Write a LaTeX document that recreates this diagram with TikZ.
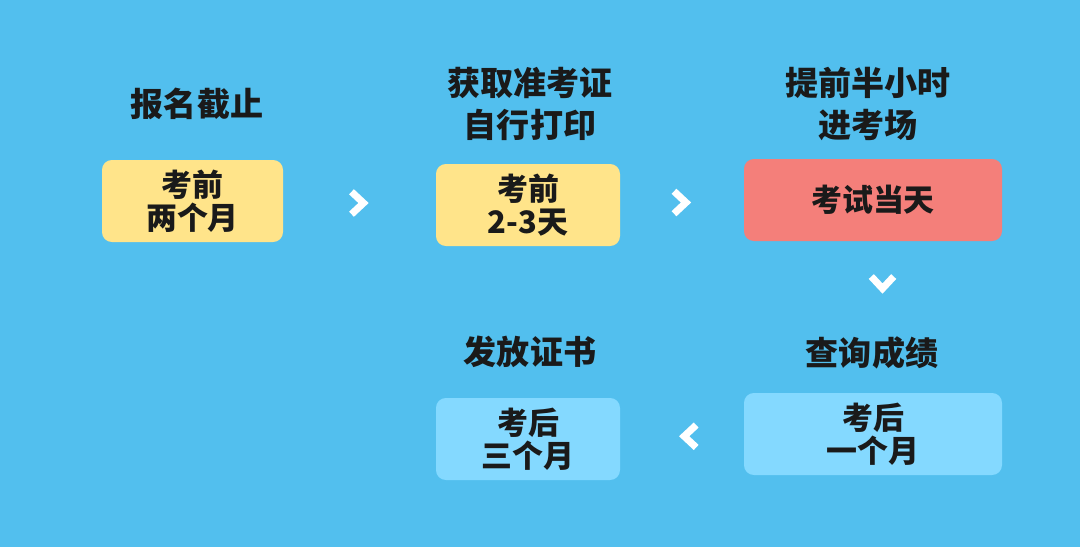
\documentclass[tikz,border=0pt]{standalone}
\usepackage{fontspec}
\newfontfamily\cjk{Noto Sans CJK SC}
\usepackage{tikz}
\usetikzlibrary{calc}
\definecolor{bgblue}{HTML}{52BFEE}
\definecolor{stepyellow}{HTML}{FFE48A}
\definecolor{stepred}{HTML}{F47F7A}
\definecolor{steplight}{HTML}{84D9FF}
\definecolor{ink}{HTML}{1A1A1A}
\tikzset{
  box/.style={rounded corners=7pt, align=center, text=ink, inner sep=0pt,
    font=\cjk\bfseries\fontsize{22}{23.5}\selectfont, minimum height=2.05cm},
  narrow/.style={box, minimum width=4.6cm},
  wide/.style={box, minimum width=6.45cm},
  title/.style={align=center, text=ink, font=\cjk\bfseries\fontsize{23.5}{30}\selectfont},
  chev/.style={draw=white, line width=5pt, line join=miter},
}
\begin{document}
\begin{tikzpicture}
  \fill[bgblue] (0,0) rectangle (27,-13.675);
  \useasboundingbox (0,0) rectangle (27,-13.675);
  % top row
  \node[narrow, fill=stepyellow, minimum width=4.525cm] (sign) at (4.8125,-5.025) {考前\\两个月};
  \node[narrow, fill=stepyellow] (print) at (13.2,-5.125) {考前\\2-3天};
  \node[wide, fill=stepred] (exam) at (21.825,-5.0) {考试当天};
  % bottom row
  \node[wide, fill=steplight] (score) at (21.825,-10.85) {考后\\一个月};
  \node[narrow, fill=steplight] (cert) at (13.2,-10.975) {考后\\三个月};
  % titles
  \node[title] (t-sign) at (4.925,-2.6) {报名截止};
  \node[title] (t-print) at (13.25,-2.6) {获取准考证\\自行打印};
  \node[title] (t-exam) at (21.7,-2.6) {提前半小时\\进考场};
  \node[title] (t-score) at (21.8,-8.825) {查询成绩};
  \node[title] (t-cert) at (13.25,-8.8) {发放证书};
  % chevrons
  \coordinate (c1) at ($(sign.east)!0.5!(print.west)$);
  \coordinate (c2) at ($(print.east)!0.5!(exam.west)$);
  \coordinate (c3) at ($(exam.south)!0.5!(t-score.north)+(0.25,0.05)$);
  \coordinate (c4) at ($(cert.east)!0.55!(score.west)$);
  \draw[chev] (c1) +(-0.2,0.28) -- +(0.1,0) -- +(-0.2,-0.28);
  \draw[chev] (c2) +(-0.2,0.28) -- +(0.1,0) -- +(-0.2,-0.28);
  \draw[chev] (c3) +(-0.28,0.2) -- +(0,-0.1) -- +(0.28,0.2);
  \draw[chev] (c4) +(0.2,0.28) -- +(-0.1,0) -- +(0.2,-0.28);
\end{tikzpicture}
\end{document}
